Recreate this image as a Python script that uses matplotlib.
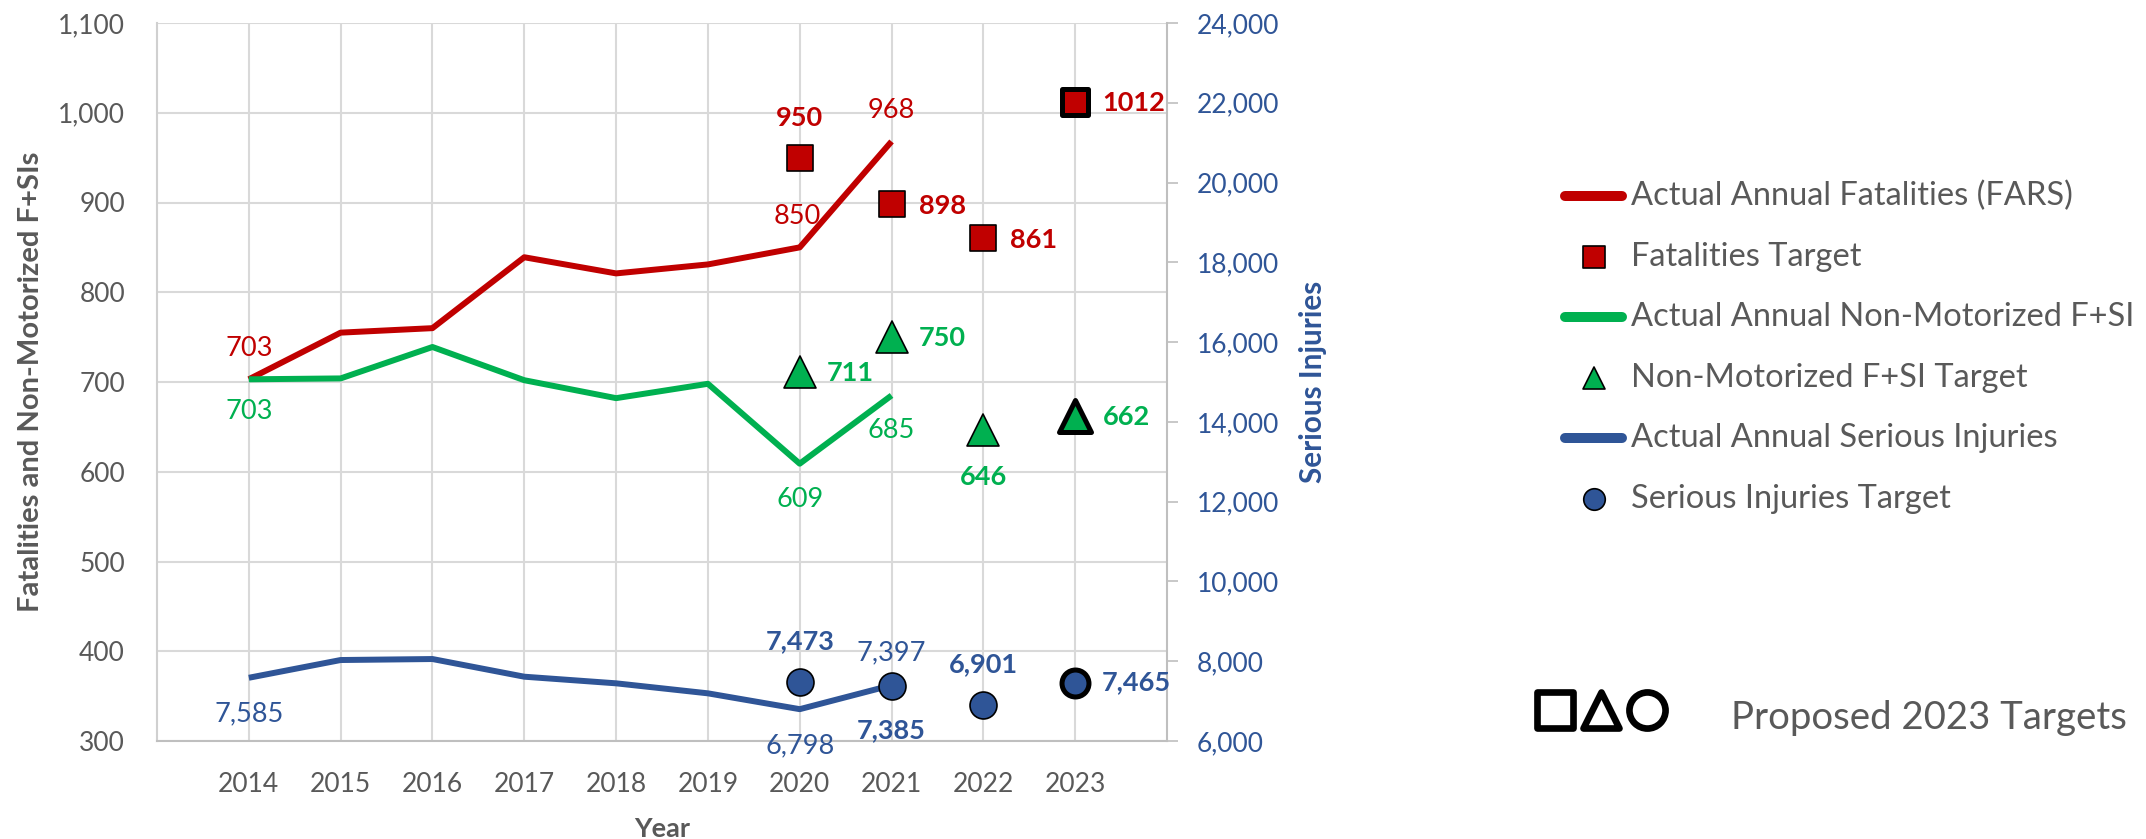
import matplotlib
matplotlib.use('Agg')
import matplotlib.pyplot as plt
from matplotlib.lines import Line2D
from matplotlib.markers import MarkerStyle

# ---------------- data ----------------
years = ['2014', '2015', '2016', '2017', '2018', '2019', '2020', '2021', '2022', '2023']
actual_years = ['2014', '2015', '2016', '2017', '2018', '2019', '2020', '2021']
fatalities = [703, 755, 760, 839, 821, 831, 850, 968]
nonmotorized = [703, 704, 739, 702, 682, 698, 609, 685]
serious_injuries = [7585, 8030, 8055, 7612, 7446, 7195, 6798, 7397]

target_years = ['2020', '2021', '2022', '2023']
fatalities_target = [950, 898, 861, 1012]
nonmotorized_target = [711, 750, 646, 662]
serious_target = [7473, 7385, 6901, 7465]

left_ticks = [300, 400, 500, 600, 700, 800, 900, 1000, 1100]
right_ticks = [6000, 8000, 10000, 12000, 14000, 16000, 18000, 20000, 22000, 24000]

legend_labels = ['Actual Annual Fatalities (FARS)', 'Fatalities Target',
                 'Actual Annual Non-Motorized F+SI', 'Non-Motorized F+SI Target',
                 'Actual Annual Serious Injuries', 'Serious Injuries Target']
note_text = 'Proposed 2023 Targets'

# ---------------- style ----------------
RED = '#C00000'
GREEN = '#00B050'
BLUE = '#2F5597'
GREY = '#595959'
GRID = '#D9D9D9'
FONT = 'Lato'
plt.rcParams['font.family'] = [FONT, 'DejaVu Sans']

W, H = 2146, 839
DPI = 100
fig = plt.figure(figsize=(W / DPI, H / DPI), dpi=DPI)
fig.patch.set_facecolor('white')


def fx(x):
    return x / W


def fy(y):
    return 1 - y / H


L, R, T, B = 157, 1167, 23, 741
ax = fig.add_axes([fx(L), fy(B), (R - L) / W, (B - T) / H])
ax2 = ax.twinx()

xpos = {y: i for i, y in enumerate(years)}
xa = [xpos[y] for y in actual_years]
xt = [xpos[y] for y in target_years]

ax.set_xlim(-1, len(years))
ax.set_ylim(left_ticks[0], left_ticks[-1])
ax2.set_ylim(right_ticks[0], right_ticks[-1])

ax.set_xticks(range(len(years)))
ax.set_xticklabels(years)
ax.set_yticks(left_ticks)
ax.set_yticklabels([f'{v:,}' for v in left_ticks])
ax2.set_yticks(right_ticks)
ax2.set_yticklabels([f'{v:,}' for v in right_ticks])

ax.grid(True, color=GRID, lw=1.5)
ax.set_axisbelow(True)
for s in ['top', 'right']:
    ax.spines[s].set_visible(False)
for s in ['left', 'bottom']:
    ax.spines[s].set_color('#D0D0D0')
    ax.spines[s].set_linewidth(1.5)
ax.spines['bottom'].set_color('#BFBFBF')
for s in ['top', 'left', 'bottom']:
    ax2.spines[s].set_visible(False)
ax2.spines['right'].set_color('#BFBFBF')
ax2.spines['right'].set_linewidth(1.5)

ax.tick_params(axis='y', length=0, pad=23, labelsize=19, labelcolor=GREY)
ax.tick_params(axis='x', length=0, pad=22, labelsize=19, labelcolor=GREY)
ax2.tick_params(axis='y', length=8, width=1.2, color='#BFBFBF', pad=13.5,
                labelsize=19, labelcolor=BLUE)

LW = 4.3
ax.plot(xa, fatalities, color=RED, lw=LW, solid_joinstyle='round', solid_capstyle='butt', zorder=3)
ax.plot(xa, nonmotorized, color=GREEN, lw=LW, solid_joinstyle='round', solid_capstyle='butt', zorder=3)
ax2.plot(xa, serious_injuries, color=BLUE, lw=LW, solid_joinstyle='round', solid_capstyle='butt', zorder=3)

MS = 19.4
sq = MarkerStyle('s', joinstyle='round')
tri = MarkerStyle('^', joinstyle='round')
for i, (x, v) in enumerate(zip(xt, fatalities_target)):
    ax.plot([x], [v], linestyle='none', marker=sq, ms=MS, mfc=RED, mec='black',
            mew=3.6 if i == len(xt) - 1 else 1.2, zorder=5)
for i, (x, v) in enumerate(zip(xt, nonmotorized_target)):
    ax.plot([x], [v], linestyle='none', marker=tri, ms=MS + 3, mfc=GREEN, mec='black',
            mew=3.6 if i == len(xt) - 1 else 1.2, zorder=5)
for i, (x, v) in enumerate(zip(xt, serious_target)):
    ax2.plot([x], [v], linestyle='none', marker='o', ms=MS, mfc=BLUE, mec='black',
            mew=3.6 if i == len(xt) - 1 else 1.2, zorder=5)

FS = 19.5


def lab(a, x, v, dx, dy, color, bold=False, ha='center', text=None):
    a.annotate(text if text is not None else f'{v:,}', (x, v), xytext=(dx, -dy),
               textcoords='offset pixels', ha=ha, va='center', fontsize=FS,
               color=color, fontweight='bold' if bold else 'normal', zorder=6,
               annotation_clip=False)


# actual-line labels
lab(ax, xa[0], fatalities[0], 0, -31, RED)
lab(ax, xa[6], fatalities[6], -2, -31, RED)
lab(ax, xa[7], fatalities[7], 0, -31, RED)
lab(ax, xa[0], nonmotorized[0], 0, 32, GREEN)
lab(ax, xa[6], nonmotorized[6], 0, 36, GREEN)
lab(ax, xa[7], nonmotorized[7], 0, 35, GREEN)
lab(ax2, xa[0], serious_injuries[0], 0, 36, BLUE)
lab(ax2, xa[6], serious_injuries[6], 0, 37, BLUE)
lab(ax2, xa[7], serious_injuries[7], 0, -32, BLUE)

# target labels
lab(ax, xt[0], fatalities_target[0], 0, -40, RED, True)
lab(ax, xt[1], fatalities_target[1], 27, 2, RED, True, 'left', f'{fatalities_target[1]}')
lab(ax, xt[2], fatalities_target[2], 27, 2, RED, True, 'left', f'{fatalities_target[2]}')
lab(ax, xt[3], fatalities_target[3], 27, 1, RED, True, 'left', f'{fatalities_target[3]}')
lab(ax, xt[0], nonmotorized_target[0], 27, 1, GREEN, True, 'left')
lab(ax, xt[1], nonmotorized_target[1], 27, 1, GREEN, True, 'left')
lab(ax, xt[2], nonmotorized_target[2], 0, 47, GREEN, True)
lab(ax, xt[3], nonmotorized_target[3], 28, 1, GREEN, True, 'left')
lab(ax2, xt[0], serious_target[0], 0, -41, BLUE, True)
lab(ax2, xt[1], serious_target[1], 0, 44, BLUE, True)
lab(ax2, xt[2], serious_target[2], 0, -41, BLUE, True)
lab(ax2, xt[3], serious_target[3], 27, 0, BLUE, True, 'left')

# ---------------- titles ----------------
t_left = fig.text(fx(31), fy(382), 'Fatalities and Non-Motorized F+SIs', rotation=90,
                  ha='center', va='center', fontsize=22, fontweight='bold', color=GREY)
t_right = fig.text(fx(1313), fy(382), 'Serious Injuries', rotation=90,
                   ha='center', va='center', fontsize=22, fontweight='bold', color=BLUE)
t_year = fig.text(fx(662), fy(837), 'Year', ha='center', va='baseline',
                  fontsize=22, fontweight='bold', color=GREY)

# ---------------- legend ----------------
leg_y = [196, 257, 317, 378, 438, 499]
leg_kind = ['line', 'square', 'line', 'triangle', 'line', 'circle']
leg_col = [RED, RED, GREEN, GREEN, BLUE, BLUE]
leg_texts = []
for y, kind, c, lbl in zip(leg_y, leg_kind, leg_col, legend_labels):
    if kind == 'line':
        fig.add_artist(Line2D([fx(1565), fx(1622)], [fy(y), fy(y)], color=c, lw=7.2,
                              solid_capstyle='round', transform=fig.transFigure))
    else:
        m = {'square': sq, 'triangle': tri, 'circle': 'o'}[kind]
        fig.add_artist(Line2D([fx(1594)], [fy(y)], linestyle='none', marker=m, ms=15.5,
                              mfc=c, mec='black', mew=1.2, transform=fig.transFigure))
    leg_texts.append(fig.text(fx(1631), fy(y), lbl, ha='left', va='center',
                              fontsize=22, color=GREY))

# proposed targets note
for x, m in [(1555, sq), (1601, tri), (1647, 'o')]:
    fig.add_artist(Line2D([fx(x)], [fy(710)], linestyle='none', marker=m, ms=26,
                          mfc='white', mec='black', mew=4.8, transform=fig.transFigure))
t_note = fig.text(fx(1731), fy(729), note_text, ha='left', va='baseline',
                  fontsize=28, color=GREY)

# ---------------- fit text sizes to reference widths ----------------
fig.canvas.draw()
r = fig.canvas.get_renderer()


def fit_w(t, target):
    w = t.get_window_extent(r).width
    t.set_fontsize(t.get_fontsize() * target / w)


def fit_h(t, target):
    h = t.get_window_extent(r).height
    t.set_fontsize(t.get_fontsize() * target / h)


fit_h(t_left, 459)
fit_h(t_right, 203)
fit_w(t_year, 56)
fit_w(t_note, 395)
w0 = leg_texts[0].get_window_extent(r).width
scale = 440 / w0
for t in leg_texts:
    t.set_fontsize(t.get_fontsize() * scale)

fig.savefig('out.png', dpi=DPI, facecolor='white')
